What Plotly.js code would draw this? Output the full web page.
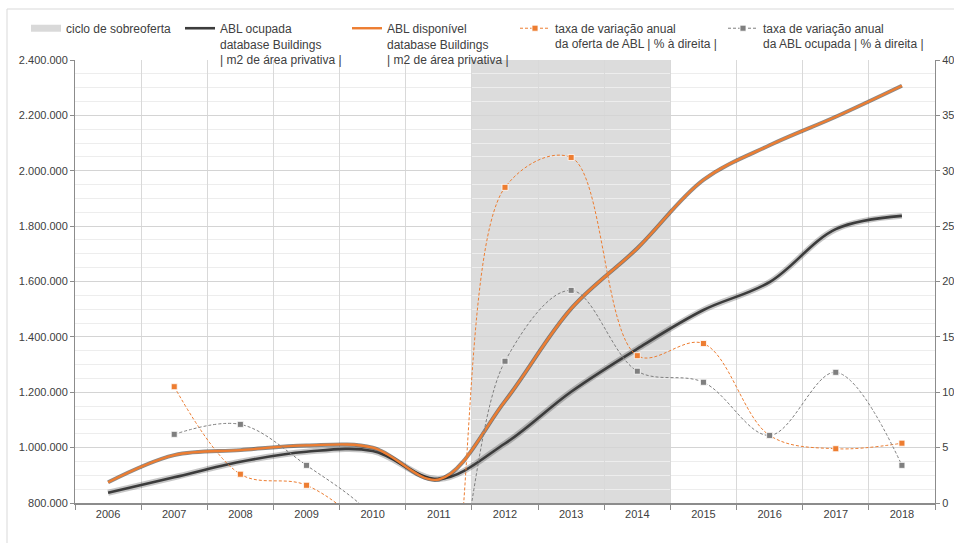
<!DOCTYPE html>
<html>
<head>
<meta charset="utf-8">
<script src="https://cdn.plot.ly/plotly-3.0.1.min.js"></script>
<style>
  html, body { margin: 0; padding: 0; background: #ffffff; }
  #chart { width: 954px; height: 543px; }
</style>
</head>
<body>
<div id="chart"></div>
<script>
// Years on the category axis
const years = ['2006','2007','2008','2009','2010','2011','2012','2013','2014','2015','2016','2017','2018'];

// Occupied GLA (m2 of private area) - left axis
const ablOcupada = [837000, 893000, 949000, 985000, 988000, 887000, 1015000, 1202000, 1357000, 1497000, 1598000, 1789000, 1837000];

// Available GLA (m2 of private area) - left axis
const ablDisponivel = [875000, 973000, 991000, 1008000, 1000000, 885000, 1168000, 1502000, 1720000, 1967000, 2092000, 2195000, 2307000];

// Annual change of GLA supply (%) - right axis
const taxaOferta = [null, 10.5, 2.6, 1.6, -3.0, -11.5, 28.5, 31.2, 13.3, 14.4, 6.1, 4.9, 5.4];

// Annual change of occupied GLA (%) - right axis
const taxaOcupada = [null, 6.2, 7.1, 3.4, -1.2, -10.0, 12.8, 19.2, 11.9, 10.9, 6.1, 11.8, 3.4];

// Oversupply cycle, as category indices on the x axis
const cicloInicio = 5.5;
const cicloFim = 8.5;

const FONT = 'Liberation Sans, Arial, sans-serif';
const TXT = '#404040';
const ORANGE = '#ed7d31';
const GREY = '#7f7f7f';
const DARK = '#3c3c3c';

const traces = [
  // legend entry for the shaded oversupply band
  {
    x: [null], y: [null], type: 'scatter', mode: 'lines',
    name: 'ciclo de sobreoferta',
    line: {color: '#d9d9d9', width: 7},
    legend: 'legend', hoverinfo: 'skip'
  },
  // soft shadow under the occupied line
  {
    x: years, y: ablOcupada, type: 'scatter', mode: 'lines',
    line: {color: 'rgba(0,0,0,0.22)', width: 6, shape: 'spline', smoothing: 1},
    showlegend: false, hoverinfo: 'skip'
  },
  {
    x: years, y: ablOcupada, type: 'scatter', mode: 'lines',
    name: 'ABL ocupada<br>database Buildings<br>| m2 de área privativa |',
    line: {color: DARK, width: 2.6, shape: 'spline', smoothing: 1},
    legend: 'legend2'
  },
  // dark edge under the available line
  {
    x: years, y: ablDisponivel, type: 'scatter', mode: 'lines',
    line: {color: 'rgba(40,40,40,0.55)', width: 4, shape: 'spline', smoothing: 1},
    showlegend: false, hoverinfo: 'skip'
  },
  {
    x: years, y: ablDisponivel, type: 'scatter', mode: 'lines',
    name: 'ABL disponível<br>database Buildings<br>| m2 de área privativa |',
    line: {color: ORANGE, width: 2.4, shape: 'spline', smoothing: 1},
    legend: 'legend3'
  },
  {
    x: years, y: taxaOferta, type: 'scatter', mode: 'lines+markers', yaxis: 'y2',
    name: 'taxa de variação anual<br>da oferta de ABL | % à direita |',
    line: {color: ORANGE, width: 1, dash: '3px,2px', shape: 'spline', smoothing: 1},
    marker: {symbol: 'square', size: 6, color: ORANGE, line: {color: '#ffffff', width: 0.8}},
    legend: 'legend4'
  },
  {
    x: years, y: taxaOcupada, type: 'scatter', mode: 'lines+markers', yaxis: 'y2',
    name: 'taxa de variação anual<br>da ABL ocupada | % à direita |',
    line: {color: GREY, width: 1, dash: '3px,2px', shape: 'spline', smoothing: 1},
    marker: {symbol: 'square', size: 6, color: GREY, line: {color: '#ffffff', width: 0.8}},
    legend: 'legend5'
  }
];

// one legend box per entry so each sits at its own place along the top row
function legendAt(xp) {
  return {
    x: xp, y: 1.104, xanchor: 'left', yanchor: 'top',
    orientation: 'v', valign: 'top', bgcolor: 'rgba(0,0,0,0)',
    font: {family: FONT, size: 12, color: TXT}, itemwidth: 30
  };
}
const L = 75, W = 860;
const px = v => (v - L) / W;

const layout = {
  width: 954, height: 543,
  margin: {l: 75, r: 19, t: 60, b: 40},
  paper_bgcolor: '#ffffff', plot_bgcolor: '#ffffff',
  separators: ',.',
  font: {family: FONT, size: 11, color: TXT},
  showlegend: true,
  legend: legendAt(px(26)),
  legend2: legendAt(px(180)),
  legend3: legendAt(px(347)),
  legend4: legendAt(px(515)),
  legend5: legendAt(px(723)),
  xaxis: {
    type: 'category', range: [-0.5, years.length - 0.5],
    tickson: 'boundaries', ticks: 'outside', ticklen: 5, tickcolor: '#8c8c8c',
    showgrid: true, gridcolor: '#d9d9d9', gridwidth: 1,
    showline: true, linecolor: '#8c8c8c', linewidth: 1.5,
    tickfont: {family: FONT, size: 11, color: TXT},
    fixedrange: true
  },
  yaxis: {
    range: [800000, 2400000], dtick: 200000, tickformat: ',.0f',
    ticks: 'outside', ticklen: 4, tickcolor: '#8c8c8c',
    showgrid: true, gridcolor: '#d4d4d4', gridwidth: 1,
    minor: {dtick: 50000, showgrid: true, gridcolor: '#ededed', gridwidth: 1},
    showline: true, linecolor: '#8c8c8c', linewidth: 1,
    zeroline: false,
    tickfont: {family: FONT, size: 11, color: TXT},
    fixedrange: true
  },
  yaxis2: {
    overlaying: 'y', side: 'right',
    range: [0, 40], dtick: 5,
    ticks: 'outside', ticklen: 4, tickcolor: '#8c8c8c',
    showgrid: false, zeroline: false,
    showline: true, linecolor: '#8c8c8c', linewidth: 1,
    tickfont: {family: FONT, size: 11, color: TXT},
    fixedrange: true
  },
  shapes: [
    // oversupply cycle band
    {
      type: 'rect', xref: 'x', yref: 'paper',
      x0: cicloInicio, x1: cicloFim, y0: 0, y1: 1,
      fillcolor: '#dcdcdc', line: {width: 0}, layer: 'below'
    },
    // light outer frame of the chart
    {
      type: 'rect', xref: 'paper', yref: 'paper',
      x0: px(7), x1: px(1000), y0: -0.2, y1: (503 - 9) / 443,
      fillcolor: 'rgba(0,0,0,0)', line: {color: '#d9d9d9', width: 1}, layer: 'below'
    }
  ]
};

Plotly.newPlot('chart', traces, layout, {displayModeBar: false, staticPlot: true});
</script>
</body>
</html>
